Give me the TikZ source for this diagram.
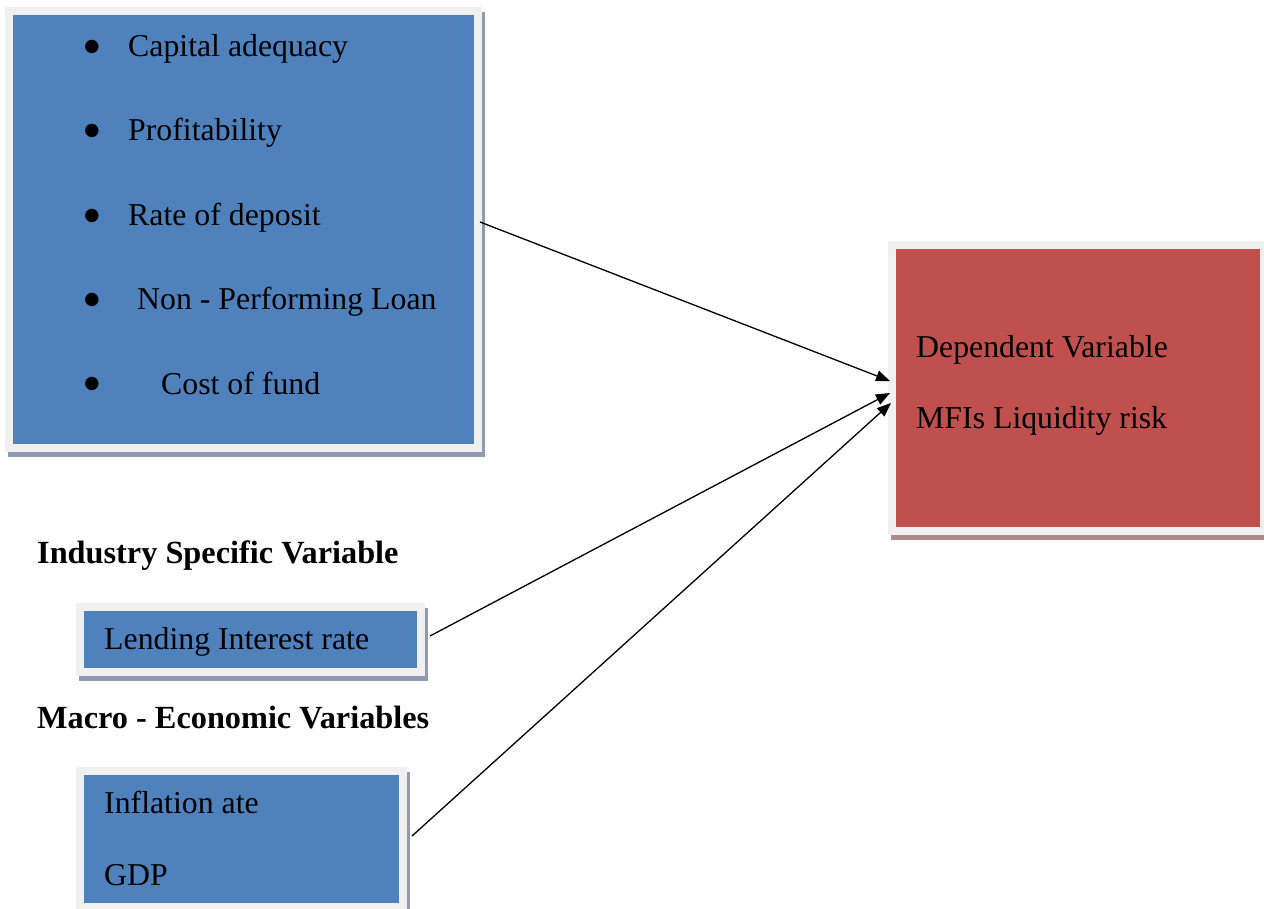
\documentclass[tikz,border=0pt]{standalone}
\usepackage{fontspec}
\setmainfont{Liberation Serif}
\usetikzlibrary{backgrounds,calc,arrows.meta}
\definecolor{boxblue}{HTML}{4F81BD}
\definecolor{boxred}{HTML}{C0504D}
\definecolor{framegray}{HTML}{F0F0F0}
\definecolor{shblue}{HTML}{8F9BB0}
\definecolor{shred}{HTML}{AE8B8A}
\tikzset{
  panel/.style={draw=none, inner sep=0pt, outer sep=0pt, anchor=north west},
  bluepanel/.style={panel, fill=boxblue},
  redpanel/.style={panel, fill=boxred},
  txt/.style={anchor=base west, inner sep=0pt, font=\fontsize{31.8}{38}\selectfont},
  head/.style={txt, font=\fontsize{32.3}{38}\selectfont\bfseries},
  bul/.style={inner sep=0pt, anchor=center, font=\fontsize{56}{60}\selectfont},
  conn/.style={line width=1.3pt, -{Triangle[length=14pt,width=11pt]}}
}
\begin{document}
\begin{tikzpicture}[x=1pt,y=-1pt]
\useasboundingbox (0,0) rectangle (1264,909);
% panels
\node[bluepanel, minimum width=461, minimum height=429] (b1) at (13,15) {};
\node[redpanel, minimum width=364, minimum height=278] (dv) at (896,249) {};
\node[bluepanel, minimum width=333, minimum height=57] (li) at (84,611) {};
\node[bluepanel, minimum width=315, minimum height=128] (me) at (84,775) {};
% frames and shadows
\begin{scope}[on background layer]
  \foreach \n/\s in {b1/shblue, dv/shred, li/shblue, me/shblue} {
    \fill[\s] ($(\n.north west)+(-5,-3)$) rectangle ($(\n.south east)+(11,13)$);
    \fill[framegray] ($(\n.north west)+(-8,-8)$) rectangle ($(\n.south east)+(8,8)$);
  }
\end{scope}
% list in first panel
\node[bul] (d1) at (92,53) {•};
\node[txt] (t1) at (128,57) {Capital adequacy};
\node[bul] (d2) at (92,137) {•};
\node[txt] (t2) at (128,141) {Profitability};
\node[bul] (d3) at (92,222) {•};
\node[txt] (t3) at (128,226) {Rate of deposit};
\node[bul] (d4) at (92,306) {•};
\node[txt] (t4) at (137,310) {Non - Performing Loan};
\node[bul] (d5) at (92,390) {•};
\node[txt] (t5) at (161,394) {Cost of fund};
% dependent
\node[txt] (dv1) at (916,357) {Dependent Variable};
\node[txt] (dv2) at (916,428) {MFIs Liquidity risk};
% headings
\node[head] (h1) at (37,563) {Industry Specific Variable};
\node[head] (h2) at (37,728) {Macro - Economic Variables};
% other texts
\node[txt] (lt) at (104,649) {Lending Interest rate};
\node[txt] (it) at (104,813) {Inflation ate};
\node[txt] (gt) at (104,885) {GDP};
% connectors
\coordinate (s1) at ($(b1.east)+(6,-7.5)$);
\coordinate (s2) at ($(li.east)+(13,-3.5)$);
\coordinate (s3) at ($(me.east)+(13,-3)$);
\coordinate (e1) at ($(dv.west)+(-6,-7)$);
\coordinate (e2) at ($(dv.west)+(-6,5)$);
\coordinate (e3) at ($(dv.west)+(-5,15)$);
\draw[conn] (s1) -- (e1);
\draw[conn] (s2) -- (e2);
\draw[conn] (s3) -- (e3);
\end{tikzpicture}
\end{document}
